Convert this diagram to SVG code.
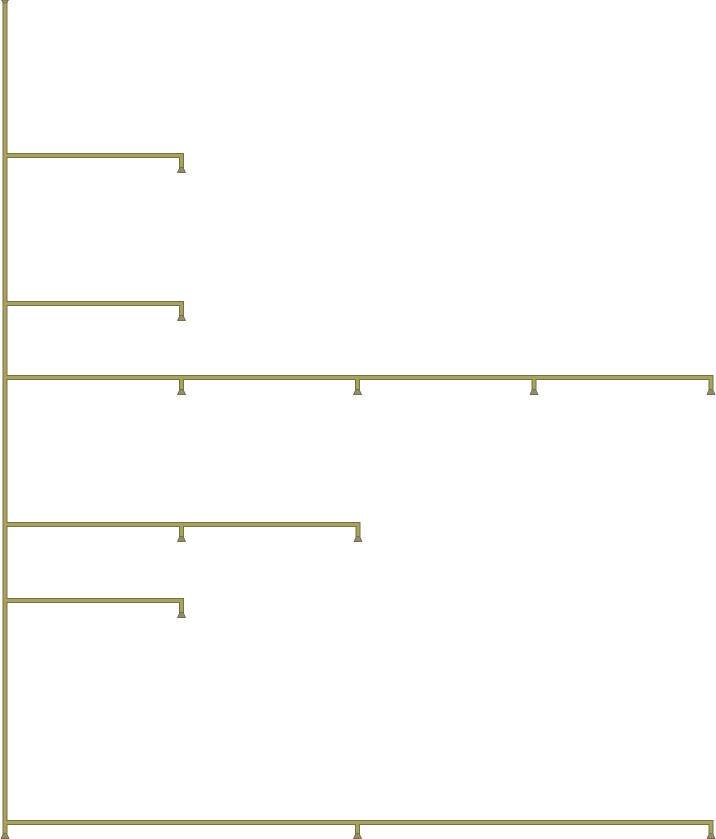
<svg xmlns="http://www.w3.org/2000/svg" width="716" height="839" viewBox="0 0 716 839">
<defs>
<style>
.o{fill:none;stroke:#77723f;stroke-width:5;stroke-linejoin:miter}
.i{fill:none;stroke:#a7a163;stroke-width:3;stroke-linejoin:miter}
.a{fill:#8e8c78;stroke:#747040;stroke-width:1}
</style>
<g id="tip"><path class="a" d="M-4,0 L4,0 L1.5,-5 L-1.5,-5 Z"/></g>
</defs>
<rect width="716" height="839" fill="#ffffff"/>
<g id="connectors">
<g id="c-outer">
<path class="o" d="M5,1 V834"/>
<path class="o" d="M5,155.5 H181.5 V168"/>
<path class="o" d="M5,303.5 H181.5 V316"/>
<path class="o" d="M5,377.5 H711 V390 M181.5,377.5 V390 M357.5,377.5 V390 M534,377.5 V390"/>
<path class="o" d="M5,524.5 H358 V537 M181.5,524.5 V537"/>
<path class="o" d="M5,600.5 H181.5 V613"/>
<path class="o" d="M5,822.5 H711 V834 M357.5,822.5 V834"/>
</g>
<g id="c-inner">
<path class="i" d="M5,1 V834"/>
<path class="i" d="M5,155.5 H181.5 V168"/>
<path class="i" d="M5,303.5 H181.5 V316"/>
<path class="i" d="M5,377.5 H711 V390 M181.5,377.5 V390 M357.5,377.5 V390 M534,377.5 V390"/>
<path class="i" d="M5,524.5 H358 V537 M181.5,524.5 V537"/>
<path class="i" d="M5,600.5 H181.5 V613"/>
<path class="i" d="M5,822.5 H711 V834 M357.5,822.5 V834"/>
</g>
<g id="arrowheads">
<path class="a" d="M1.5,0 L8.5,0 L6.5,3 L3.5,3 Z"/>
<use href="#tip" x="181.5" y="172.5"/>
<use href="#tip" x="181.5" y="320.5"/>
<use href="#tip" x="181.5" y="394.5"/>
<use href="#tip" x="357.5" y="394.5"/>
<use href="#tip" x="534" y="394.5"/>
<use href="#tip" x="711" y="394.5"/>
<use href="#tip" x="181.5" y="541.5"/>
<use href="#tip" x="358" y="541.5"/>
<use href="#tip" x="181.5" y="617.5"/>
<use href="#tip" x="5" y="838.5"/>
<use href="#tip" x="357.5" y="838.5"/>
<use href="#tip" x="711" y="838.5"/>
</g>
</g>
</svg>
